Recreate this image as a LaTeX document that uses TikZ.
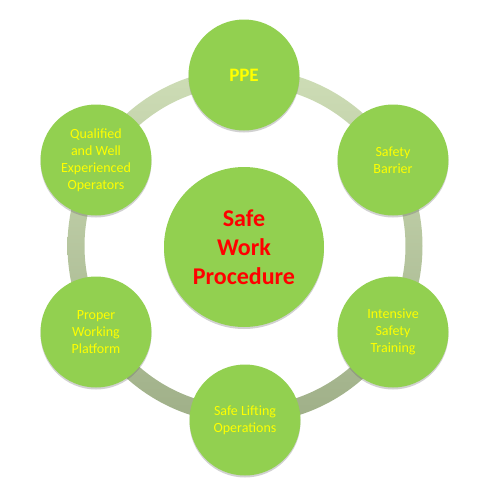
\documentclass[tikz,border=0pt]{standalone}
\usepackage{fontspec}
\setmainfont{Carlito}
\usetikzlibrary{shadows}
\definecolor{leaf}{HTML}{92D050}
\definecolor{ringtop}{HTML}{CEDDB6}
\definecolor{ringbot}{HTML}{9FAF88}
\definecolor{txtyellow}{HTML}{FFFF00}
\definecolor{txtred}{HTML}{FF0000}
\tikzset{
  bubble/.style={circle, fill=leaf, minimum size=111pt, inner sep=0pt,
    align=center, text=txtyellow, font=\fontsize{14}{17}\selectfont,
    drop shadow={opacity=0.3, shadow xshift=0pt, shadow yshift=-2pt, fill=black!60}},
  hub/.style={circle, fill=leaf, minimum size=160pt, inner sep=0pt,
    align=center, text=txtred, font=\fontsize{24}{29}\selectfont\bfseries,
    drop shadow={opacity=0.3, shadow xshift=0pt, shadow yshift=-2pt, fill=black!60}}
}
\begin{document}
\begin{tikzpicture}[x=1pt,y=-1pt]
\useasboundingbox (0,0) rectangle (490,491);
% ring
\shade[top color=ringtop, bottom color=ringbot, even odd rule]
  (245,246) circle[radius=177.5] (245,246) circle[radius=160.5];
\node[hub] (c) at (244,247) {Safe\\Work\\Procedure};
\node[bubble, font=\fontsize{19}{22}\selectfont\bfseries] (ppe) at (244,75) {PPE};
\node[bubble] (sb) at (393,160) {Safety\\Barrier};
\node[bubble] (ist) at (393,332) {Intensive\\Safety\\Training};
\node[bubble] (slo) at (245,420) {Safe Lifting\\Operations};
\node[bubble] (pwp) at (96,332) {Proper\\Working\\Platform};
\node[bubble] (qwe) at (96,160) {Qualified\\and Well\\Experienced\\Operators};
\end{tikzpicture}
\end{document}
